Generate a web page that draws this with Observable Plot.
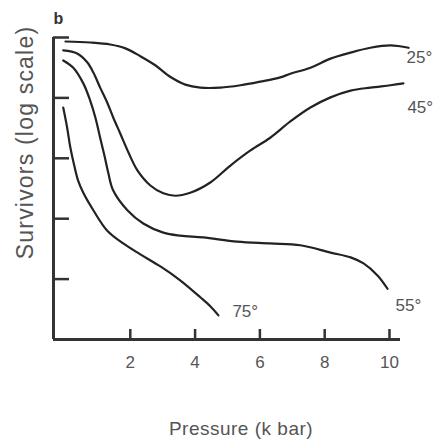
<!DOCTYPE html>
<html>
<head>
<meta charset="utf-8">
<script src="https://cdn.jsdelivr.net/npm/d3@7"></script>
<script src="https://cdn.jsdelivr.net/npm/@observablehq/plot@0.6"></script>
<style>
  html, body { margin: 0; padding: 0; background: #fff; }
</style>
</head>
<body>
<div id="chart"></div>
<script>
// ---- data ----
const seriesNames = ["25°", "45°", "55°", "75°"];

const pressure25 = [0.0, 0.76, 1.38, 1.85, 2.31, 2.77, 3.23, 3.70, 4.16, 4.78, 5.40, 6.01, 6.63, 6.94, 7.56, 8.18, 8.80, 9.41, 10.03, 10.59];
const survivors25 = [0.859, 0.826, 0.766, 0.661, 0.490, 0.347, 0.224, 0.166, 0.148, 0.148, 0.162, 0.186, 0.219, 0.251, 0.316, 0.447, 0.562, 0.676, 0.741, 0.676];

const pressure45 = [-0.07, 0.36, 0.67, 0.86, 1.07, 1.29, 1.47, 1.69, 1.94, 2.22, 2.62, 3.02, 3.39, 3.85, 4.47, 5.09, 5.71, 6.32, 6.94, 7.56, 8.18, 8.80, 9.41, 10.03, 10.43];
const survivors45 = [0.610, 0.543, 0.389, 0.263, 0.148, 0.0832, 0.0479, 0.0257, 0.0126, 0.00631, 0.00355, 0.00263, 0.00240, 0.00269, 0.00398, 0.00759, 0.0135, 0.0219, 0.0407, 0.0692, 0.102, 0.132, 0.148, 0.162, 0.174];

const pressure55 = [-0.07, 0.24, 0.55, 0.76, 0.92, 1.07, 1.20, 1.32, 1.47, 1.91, 2.40, 3.02, 3.54, 4.25, 5.30, 6.32, 7.25, 8.18, 8.80, 9.20, 9.63, 9.94];
const survivors55 = [0.417, 0.316, 0.174, 0.0912, 0.0479, 0.0219, 0.0112, 0.00575, 0.00295, 0.00138, 0.000832, 0.000589, 0.000525, 0.000490, 0.000417, 0.000389, 0.000363, 0.000275, 0.000229, 0.000182, 0.000115, 0.0000692];

const pressure75 = [-0.07, 0.05, 0.15, 0.27, 0.39, 0.55, 0.86, 1.29, 1.78, 2.31, 2.93, 3.54, 4.16, 4.47, 4.72];
const survivors75 = [0.0692, 0.0324, 0.0151, 0.00759, 0.00427, 0.00269, 0.00138, 0.000631, 0.000389, 0.000257, 0.000162, 0.0000955, 0.0000501, 0.0000355, 0.0000251];

const xTicks = [2, 4, 6, 8, 10];
const yTicks = [1, 0.1, 0.01, 0.001, 0.0001];
const xDomain = [-0.37, 10.34];
const yDomain = [0.00001, 1];

// ---- build table ----
const pressures = [pressure25, pressure45, pressure55, pressure75];
const survivors = [survivors25, survivors45, survivors55, survivors75];
const rows = [];
seriesNames.forEach((name, i) => {
  pressures[i].forEach((p, j) => rows.push({series: name, pressure: p, survivors: survivors[i][j]}));
});

// label offsets (styling)
const labelOffsets = {
  "25°": {dx: -2, dy: 10},
  "45°": {dx: 4, dy: 24},
  "55°": {dx: 8, dy: 17},
  "75°": {dx: 14, dy: -4}
};

const W = 437, H = 439;
const mTop = 37, mBottom = 100, mLeft = 53, mRight = 37;
const frameW = W - mLeft - mRight;
const frameH = H - mTop - mBottom;
const textColor = "#555";
const lineColor = "#222";
const axisColor = "#333";

const labelMarks = seriesNames.map(name =>
  Plot.text(rows.filter(d => d.series === name), Plot.selectLast({
    x: "pressure", y: "survivors", text: "series",
    textAnchor: "start", lineAnchor: "middle", fontSize: 17, fill: textColor,
    dx: labelOffsets[name].dx, dy: labelOffsets[name].dy
  }))
);

const chart = Plot.plot({
  width: W,
  height: H,
  marginTop: mTop,
  marginBottom: mBottom,
  marginLeft: mLeft,
  marginRight: mRight,
  style: {fontFamily: "'Liberation Sans', Arial, sans-serif", background: "#fff", overflow: "visible"},
  x: {domain: xDomain, axis: null},
  y: {type: "log", domain: yDomain, axis: null},
  marks: [
    // axis lines
    Plot.ruleX([xDomain[0]], {stroke: axisColor, strokeWidth: 3}),
    Plot.ruleY([yDomain[0]], {stroke: axisColor, strokeWidth: 3}),
    // inward ticks
    Plot.ruleY(yTicks, {stroke: axisColor, strokeWidth: 2.5, insetRight: frameW - 16}),
    Plot.ruleX(xTicks, {stroke: axisColor, strokeWidth: 2.5, insetTop: frameH - 10}),
    // tick labels
    Plot.text(xTicks, {x: d => d, y: yDomain[0], dy: 23, text: d => String(d), fontSize: 17, fill: textColor, textAnchor: "middle", lineAnchor: "middle"}),
    // curves
    Plot.line(rows, {x: "pressure", y: "survivors", z: "series", stroke: lineColor, strokeWidth: 2.2, curve: "catmull-rom"}),
    ...labelMarks,
    // axis titles
    Plot.text(["Pressure (k bar)"], {frameAnchor: "bottom", textAnchor: "middle", lineAnchor: "middle", dx: 14, dy: 89, fontSize: 19, fill: textColor}),
    Plot.text(["Survivors (log scale)"], {frameAnchor: "left", textAnchor: "middle", lineAnchor: "middle", rotate: -90, dx: -28, dy: -46, fontSize: 23, fill: textColor}),
    // panel letter
    Plot.text(["b"], {frameAnchor: "top-left", textAnchor: "start", lineAnchor: "middle", dx: 0, dy: -19, fontSize: 16, fontWeight: "bold", fill: "#333"})
  ]
});

d3.select(chart).selectAll("text").filter(function() { return this.textContent === "Survivors (log scale)"; })
  .style("letter-spacing", "1.2px");
d3.select(chart).selectAll("text").filter(function() { return this.textContent === "Pressure (k bar)"; })
  .style("letter-spacing", "0.5px");

document.getElementById("chart").appendChild(chart);
</script>
</body>
</html>
